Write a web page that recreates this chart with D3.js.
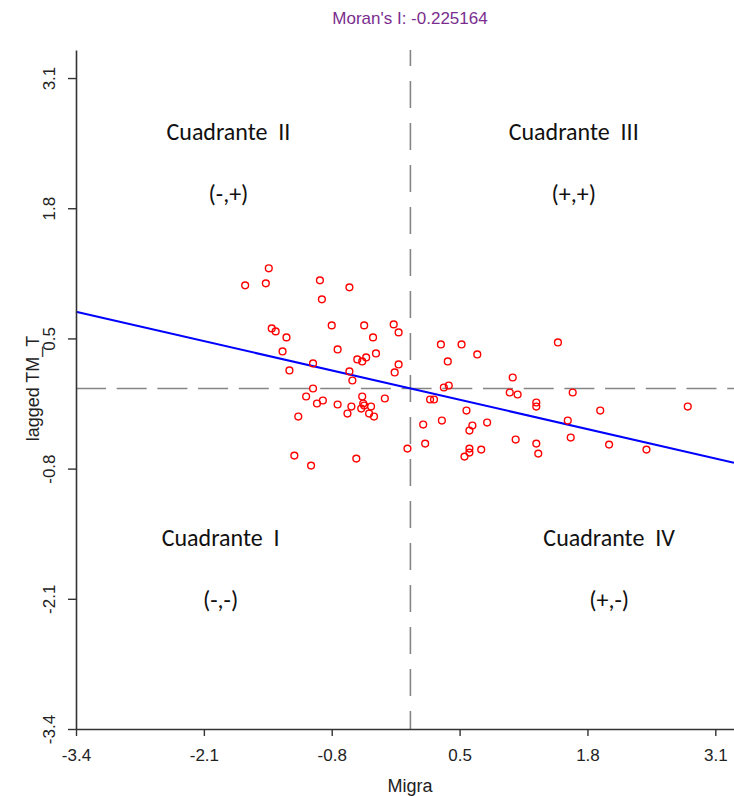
<!DOCTYPE html>
<html>
<head>
<meta charset="utf-8">
<script src="https://cdn.jsdelivr.net/npm/d3@7"></script>
<style>
  html, body { margin: 0; padding: 0; background: #fff; }
  svg { display: block; }
  text { font-family: "Liberation Sans", Arial, sans-serif; }
  .quad { font-family: Carlito, Calibri, Lato, "Open Sans", sans-serif; white-space: pre; }
</style>
</head>
<body>
<script>
// ---- data ----
const migra = [
  -1.44, -1.68, -1.47, -0.92, -0.62, -0.90, -1.41, -1.37, -1.26, -0.80,
  -0.47, -0.17, -0.12, -0.38, -1.30, -0.74, -0.54, -0.49, -0.45, -0.35,
  -0.12, -0.16, -1.23, -0.99, -0.62, -0.59, -0.99, -1.06, -0.95, -0.89,
  -0.74, -0.60, -0.64, -0.49, -0.48, -0.50, -0.47, -0.40, -0.42, -0.37,
  -0.26, -1.14, -1.18, -1.01, -0.55, -0.03, 0.31, 0.52, 0.68, 0.38,
  1.50, 1.04, 0.39, 0.34, 1.01, 1.09, 1.65, 0.20, 0.24, 1.28,
  1.28, 0.57, 1.93, 2.82, 0.32, 0.13, 0.63, 0.60, 0.78, 1.60,
  1.07, 1.63, 0.15, 1.28, 1.30, 0.60, 0.60, 0.55, 0.72, 2.02,
  2.40
];
const laggedTM = [
  1.20, 1.03, 1.05, 1.08, 1.01, 0.89, 0.60, 0.57, 0.51, 0.63,
  0.63, 0.64, 0.56, 0.51, 0.37, 0.39, 0.29, 0.27, 0.31, 0.35,
  0.24, 0.16, 0.18, 0.25, 0.17, 0.08, 0.00, -0.08, -0.15, -0.12,
  -0.16, -0.18, -0.25, -0.08, -0.15, -0.20, -0.17, -0.18, -0.25, -0.28,
  -0.10, -0.28, -0.67, -0.77, -0.70, -0.60, 0.44, 0.44, 0.34, 0.27,
  0.46, 0.11, 0.03, 0.01, -0.04, -0.06, -0.04, -0.11, -0.11, -0.14,
  -0.18, -0.22, -0.22, -0.18, -0.32, -0.36, -0.37, -0.42, -0.34, -0.32,
  -0.51, -0.49, -0.55, -0.55, -0.65, -0.60, -0.64, -0.68, -0.61, -0.56,
  -0.61
];
const moranI = -0.225164;
const xTicks = [-3.4, -2.1, -0.8, 0.5, 1.8, 3.1];
const yTicks = [-3.4, -2.1, -0.8, 0.5, 1.8, 3.1];
const xDomain = [-3.4, 3.29];
const yDomain = [-3.4, 3.38];
const quadrantNames = ["Cuadrante  II", "Cuadrante  III", "Cuadrante  I", "Cuadrante  IV"];
const quadrantSigns = ["(-,+)", "(+,+)", "(-,-)", "(+,-)"];
const titleText = "Moran's I: -0.225164";
const xLabel = "Migra";
const yLabel = "lagged TM_T";

// ---- layout ----
const W = 734, H = 796;
const mLeft = 76, mRight = 734, mTop = 50, mBottom = 729;

const svg = d3.select("body").append("svg").attr("width", W).attr("height", H);

const x = d3.scaleLinear().domain(xDomain).range([mLeft, mRight]);
const y = d3.scaleLinear().domain(yDomain).range([mBottom, mTop]);
const fmt = v => d3.format(".1f")(v).replace("\u2212", "-");

// dashed reference lines (mean = 0)
svg.append("line")
  .attr("x1", x(0)).attr("x2", x(0)).attr("y1", mTop).attr("y2", mBottom)
  .attr("stroke", "#858585").attr("stroke-width", 1.6)
  .attr("stroke-dasharray", "27,15").attr("stroke-dashoffset", 11);
svg.append("line")
  .attr("x1", mLeft).attr("x2", mRight).attr("y1", y(0)).attr("y2", y(0))
  .attr("stroke", "#858585").attr("stroke-width", 1.6)
  .attr("stroke-dasharray", "30,10.7");

// regression line (slope = Moran's I)
svg.append("line")
  .attr("x1", x(xDomain[0])).attr("y1", y(moranI * xDomain[0]))
  .attr("x2", x(xDomain[1])).attr("y2", y(moranI * xDomain[1]))
  .attr("stroke", "#0000FF").attr("stroke-width", 2);

// points
svg.append("g").selectAll("circle")
  .data(migra.map((v, i) => [v, laggedTM[i]]))
  .join("circle")
  .attr("cx", d => x(d[0])).attr("cy", d => y(d[1]))
  .attr("r", 3.4)
  .attr("fill", "none").attr("stroke", "#FF0000").attr("stroke-width", 1.4);

// axes
const axisColor = "#333";
const gx = svg.append("g").attr("transform", `translate(0,${mBottom})`)
  .call(d3.axisBottom(x).tickValues(xTicks).tickFormat(fmt)
    .tickSize(7).tickSizeOuter(0).tickPadding(13));
const gy = svg.append("g").attr("transform", `translate(${mLeft},0)`)
  .call(d3.axisLeft(y).tickValues(yTicks).tickFormat(fmt)
    .tickSize(8).tickSizeOuter(0));
[gx, gy].forEach(g => {
  g.select(".domain").attr("stroke", axisColor).attr("stroke-width", 1.6);
  g.selectAll(".tick line").attr("stroke", axisColor).attr("stroke-width", 1.4);
  g.selectAll("text").attr("font-family", "Liberation Sans, Arial, sans-serif")
    .attr("font-size", 17).attr("fill", "#222");
});
gy.selectAll(".tick text")
  .attr("x", 0).attr("dy", 0).attr("text-anchor", "middle")
  .attr("transform", "translate(-21,0) rotate(-90)");

// title & axis labels
svg.append("text").attr("x", 410).attr("y", 24).attr("text-anchor", "middle")
  .attr("font-size", 17).attr("fill", "#7A2E8E").text(titleText);
svg.append("text").attr("x", 410).attr("y", 792).attr("text-anchor", "middle")
  .attr("font-size", 18).attr("fill", "#222").text(xLabel);
svg.append("text").attr("text-anchor", "middle")
  .attr("transform", `translate(39,${y(0)}) rotate(-90)`)
  .attr("font-size", 18).attr("fill", "#222").text(yLabel);

// quadrant annotations (positions in data space)
const quadX = [-1.85, 1.66, -1.93, 2.02];
const quadY = [2.57, 2.57, -1.49, -1.49];
const signDy = [-0.62, -0.62, -0.62, -0.62];
quadrantNames.forEach((name, i) => {
  svg.append("text").attr("class", "quad")
    .attr("x", x(quadX[i])).attr("y", y(quadY[i])).attr("dy", "0.35em")
    .attr("text-anchor", "middle").attr("font-size", 24).attr("fill", "#111")
    .text(name);
  svg.append("text").attr("class", "quad")
    .attr("x", x(quadX[i])).attr("y", y(quadY[i] + signDy[i])).attr("dy", "0.35em")
    .attr("text-anchor", "middle").attr("font-size", 24).attr("fill", "#111")
    .text(quadrantSigns[i]);
});
</script>
</body>
</html>
